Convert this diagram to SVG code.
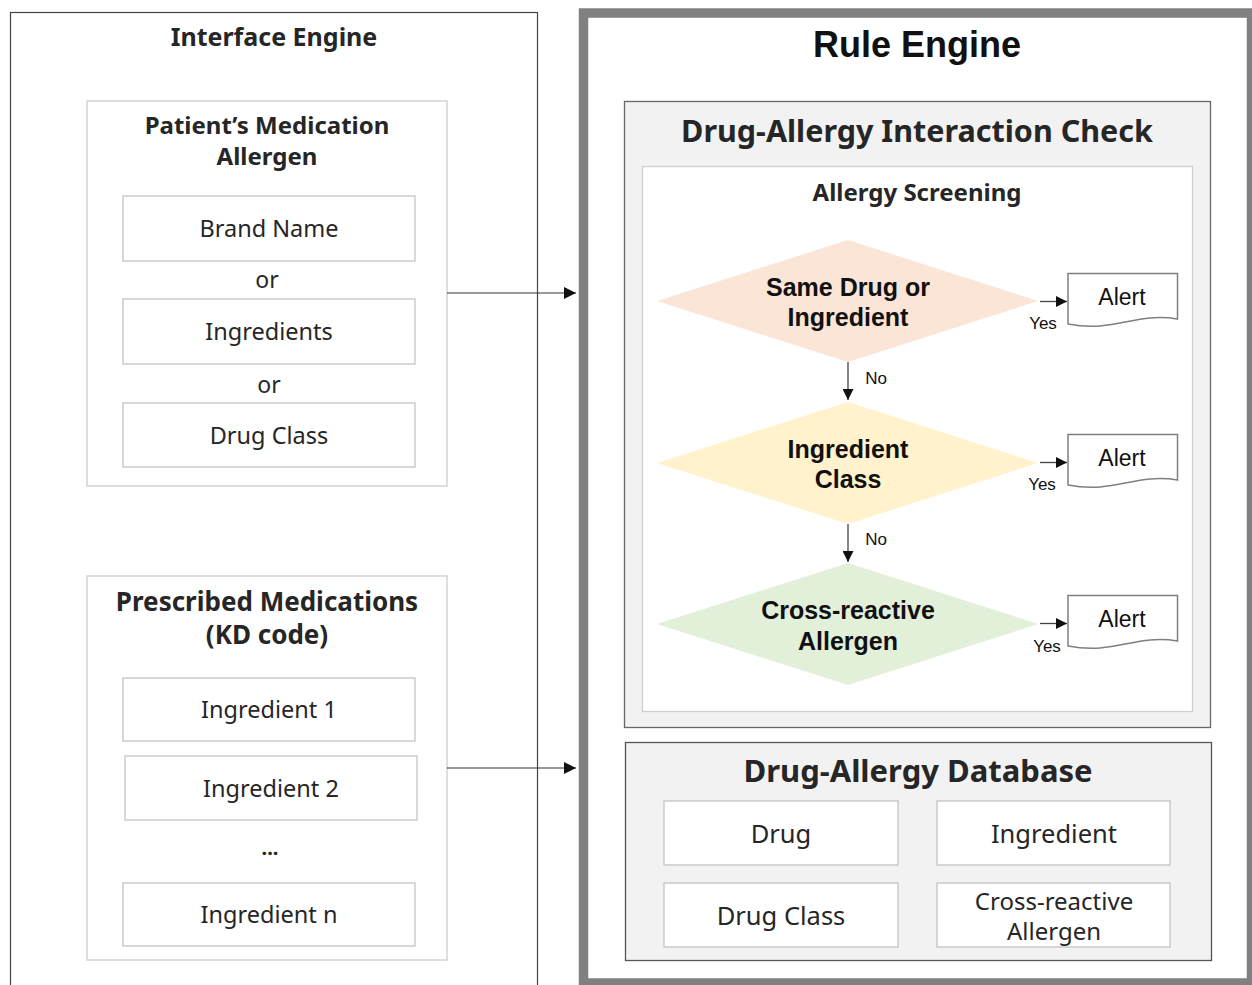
<svg xmlns="http://www.w3.org/2000/svg" width="1252" height="985" viewBox="0 0 1252 985">
  <style>
    .seg { font-family: "Noto Sans", "Open Sans", sans-serif; fill: #262626; text-anchor: middle; }
    .segb { font-family: "Noto Sans", "Open Sans", sans-serif; font-weight: bold; fill: #262626; text-anchor: middle; }
    .ar { font-family: "Liberation Sans", Arial, sans-serif; fill: #111; text-anchor: middle; }
    .arb { font-family: "Liberation Sans", Arial, sans-serif; font-weight: bold; fill: #111; text-anchor: middle; }
    .item { fill: #fff; stroke: #bfbfbf; stroke-width: 1.2; }
    .panel { fill: #fff; stroke: #c8c8c8; stroke-width: 1.2; }
    .doc { fill: #fff; stroke: #7f7f7f; stroke-width: 1.5; }
    .conn { fill: none; stroke: #333; stroke-width: 1.2; }
    .flow { fill: none; stroke: #444; stroke-width: 1.3; }
  </style>
  <defs>
    <marker id="arrow" viewBox="0 0 10 10" refX="10" refY="5" markerWidth="11" markerHeight="11" markerUnits="userSpaceOnUse" orient="auto">
      <path d="M0,0 L10,5 L0,10 Z" fill="#111"/>
    </marker>
    <marker id="arrowL" viewBox="0 0 10 10" refX="10" refY="5" markerWidth="12" markerHeight="12" markerUnits="userSpaceOnUse" orient="auto">
      <path d="M0,0 L10,5 L0,10 Z" fill="#111"/>
    </marker>
  </defs>

  <rect width="1252" height="985" fill="#fff"/>

  <!-- Interface engine column -->
  <g id="interface-engine">
    <rect x="10.5" y="12.5" width="527" height="980" fill="#fff" stroke="#444" stroke-width="1.2"/>
    <text class="segb" x="274" y="46" font-size="25">Interface Engine</text>
  </g>

  <g id="patient-allergen">
    <rect class="panel" x="87" y="101" width="360" height="385"/>
    <text class="segb" x="267" y="134" font-size="24">Patient’s Medication</text>
    <text class="segb" x="267" y="165" font-size="24">Allergen</text>
  </g>
  <g id="brand-name">
    <rect class="item" x="123" y="196" width="292" height="65"/>
    <text class="seg" x="269" y="237" font-size="23.5">Brand Name</text>
  </g>
  <text class="seg" x="267" y="288" font-size="23">or</text>
  <g id="ingredients">
    <rect class="item" x="123" y="299" width="292" height="65"/>
    <text class="seg" x="269" y="340" font-size="23.5">Ingredients</text>
  </g>
  <text class="seg" x="269" y="393" font-size="23">or</text>
  <g id="drug-class-input">
    <rect class="item" x="123" y="403" width="292" height="64"/>
    <text class="seg" x="269" y="444" font-size="23.5">Drug Class</text>
  </g>

  <g id="prescribed">
    <rect class="panel" x="87" y="576" width="360" height="384"/>
    <text class="segb" x="267" y="611" font-size="26">Prescribed Medications</text>
    <text class="segb" x="267" y="644" font-size="26">(KD code)</text>
  </g>
  <g id="ingredient-1">
    <rect class="item" x="123" y="678" width="292" height="63"/>
    <text class="seg" x="269" y="718" font-size="23.5">Ingredient 1</text>
  </g>
  <g id="ingredient-2">
    <rect class="item" x="125" y="756" width="292" height="64"/>
    <text class="seg" x="271" y="797" font-size="23.5">Ingredient 2</text>
  </g>
  <text class="segb" x="270" y="855" font-size="20">...</text>
  <g id="ingredient-n">
    <rect class="item" x="123" y="883" width="292" height="63"/>
    <text class="seg" x="269" y="923" font-size="23.5">Ingredient n</text>
  </g>

  <!-- Rule engine column -->
  <g id="rule-engine">
    <rect x="583.5" y="13" width="668" height="970" fill="#fff" stroke="#808080" stroke-width="9.5"/>
    <text class="arb" x="917" y="57" font-size="36">Rule Engine</text>
  </g>

  <g id="interaction-check">
    <rect x="624.5" y="101.5" width="586" height="626" fill="#f2f2f2" stroke="#666" stroke-width="1.3"/>
    <text class="segb" x="917" y="142" font-size="30.5">Drug-Allergy Interaction Check</text>
  </g>
  <g id="allergy-screening">
    <rect x="642.5" y="166.5" width="550" height="545" fill="#fff" stroke="#cfcfcf" stroke-width="1.3"/>
    <text class="segb" x="917" y="201" font-size="24">Allergy Screening</text>
  </g>

  <g id="same-drug">
    <polygon points="848,240 1038,301 848,362 657,301" fill="#fbe5d6"/>
    <text class="arb" x="848" y="296" font-size="25">Same Drug or</text>
    <text class="arb" x="848" y="326" font-size="25">Ingredient</text>
  </g>
  <g id="ingredient-class">
    <polygon points="848,402 1038,463 848,524 657,463" fill="#fff2cc"/>
    <text class="arb" x="848" y="458" font-size="25">Ingredient</text>
    <text class="arb" x="848" y="488" font-size="25">Class</text>
  </g>
  <g id="cross-reactive">
    <polygon points="848,563 1038,624 848,685 657,624" fill="#e2f0d9"/>
    <text class="arb" x="848" y="619" font-size="25">Cross-reactive</text>
    <text class="arb" x="848" y="650" font-size="25">Allergen</text>
  </g>

  <g id="alert-1">
    <path class="doc" d="M1068,273.5 H1177.5 V319 C1135,312 1115,333 1068,324 Z"/>
    <text class="ar" x="1122" y="305" font-size="23">Alert</text>
  </g>
  <g id="alert-2">
    <path class="doc" d="M1068,434.5 H1177.5 V480 C1135,473 1115,494 1068,485 Z"/>
    <text class="ar" x="1122" y="466" font-size="23">Alert</text>
  </g>
  <g id="alert-3">
    <path class="doc" d="M1068,595.5 H1177.5 V641 C1135,634 1115,655 1068,646 Z"/>
    <text class="ar" x="1122" y="627" font-size="23">Alert</text>
  </g>

  <g id="database">
    <rect x="625.5" y="742.5" width="586" height="218" fill="#f2f2f2" stroke="#555" stroke-width="1.3"/>
    <text class="segb" x="918" y="782" font-size="31">Drug-Allergy Database</text>
  </g>
  <g id="db-drug">
    <rect class="item" x="664" y="801" width="234" height="64"/>
    <text class="seg" x="781" y="843" font-size="25.5">Drug</text>
  </g>
  <g id="db-ingredient">
    <rect class="item" x="937" y="801" width="233" height="64"/>
    <text class="seg" x="1054" y="843" font-size="25.5">Ingredient</text>
  </g>
  <g id="db-drug-class">
    <rect class="item" x="664" y="883" width="234" height="64"/>
    <text class="seg" x="781" y="925" font-size="25.5">Drug Class</text>
  </g>
  <g id="db-cross-reactive">
    <rect class="item" x="937" y="883" width="233" height="64"/>
    <text class="seg" x="1054" y="910" font-size="24">Cross-reactive</text>
    <text class="seg" x="1054" y="940" font-size="24">Allergen</text>
  </g>

  <!-- Connectors -->
  <g id="connectors">
    <path class="conn" d="M447,293 H576" marker-end="url(#arrowL)"/>
    <path class="conn" d="M447,768 H576" marker-end="url(#arrowL)"/>

    <path class="flow" d="M848,362 V400" marker-end="url(#arrow)"/>
    <text class="ar" x="876" y="384" font-size="17">No</text>
    <path class="flow" d="M848,524 V562" marker-end="url(#arrow)"/>
    <text class="ar" x="876" y="545" font-size="17">No</text>

    <path class="flow" d="M1040,301.5 H1067" marker-end="url(#arrow)"/>
    <text class="ar" x="1043" y="329" font-size="17">Yes</text>
    <path class="flow" d="M1040,462.5 H1067" marker-end="url(#arrow)"/>
    <text class="ar" x="1042" y="490" font-size="17">Yes</text>
    <path class="flow" d="M1040,623.5 H1067" marker-end="url(#arrow)"/>
    <text class="ar" x="1047" y="652" font-size="17">Yes</text>
  </g>
</svg>
